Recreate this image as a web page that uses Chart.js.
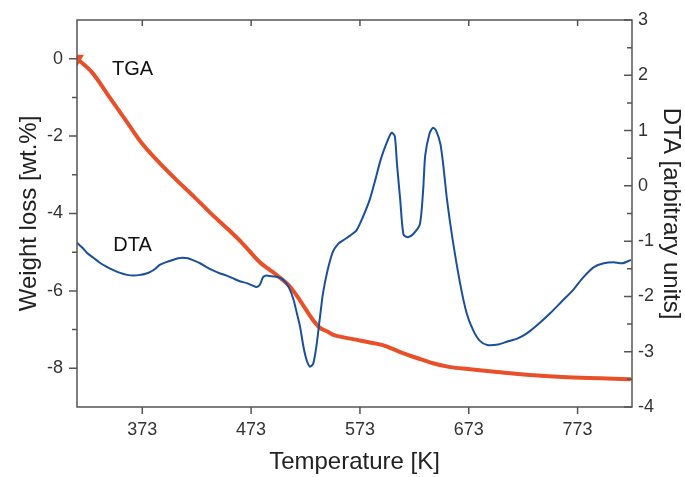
<!DOCTYPE html>
<html>
<head>
<meta charset="utf-8">
<script src="https://cdn.jsdelivr.net/npm/chart.js@4/dist/chart.umd.min.js"></script>
<style>
  body { margin: 0; background: #fff; }
</style>
</head>
<body>
<canvas id="chart" width="685" height="477"></canvas>
<script>
// TGA curve (left axis, wt.%)
const tgaTemp = [313, 327, 343, 358, 373, 389, 405, 420, 435, 450, 465, 481, 497, 509, 518, 530, 536, 543, 550, 558, 573, 580, 594, 610, 626, 640, 656, 672, 702, 733, 764, 794, 822];
const tgaWeight = [0, -0.36, -1.0, -1.6, -2.2, -2.7, -3.15, -3.55, -3.97, -4.36, -4.77, -5.26, -5.6, -5.9, -6.25, -6.76, -6.95, -7.05, -7.15, -7.2, -7.28, -7.32, -7.4, -7.58, -7.74, -7.87, -7.97, -8.02, -8.1, -8.18, -8.23, -8.26, -8.28];

// DTA curve (right axis, arbitrary units)
const dtaTemp = [313, 318, 322, 328, 334, 340, 346, 352, 359, 365, 371, 376, 380, 385, 389, 395, 401, 406, 410, 415, 419, 426, 432, 438, 444, 450, 456, 462, 469, 474, 478, 481, 484, 487, 490, 495, 500, 504, 508, 512, 515, 518, 521, 524, 527, 530, 533, 536, 539, 543, 548, 553, 558, 564, 570, 576, 582, 587, 592, 597, 602, 605, 607, 610, 613, 617, 622, 628, 631, 633, 637, 640, 643, 647, 650, 653, 658, 665, 671, 677, 683, 690, 700, 708, 718, 727, 737, 748, 758, 769, 778, 788, 797, 806, 814, 822];
const dtaValue = [-1.03, -1.12, -1.21, -1.30, -1.39, -1.46, -1.52, -1.57, -1.61, -1.62, -1.61, -1.59, -1.56, -1.50, -1.43, -1.38, -1.34, -1.31, -1.30, -1.31, -1.34, -1.40, -1.47, -1.53, -1.58, -1.62, -1.67, -1.72, -1.76, -1.80, -1.83, -1.79, -1.65, -1.62, -1.63, -1.64, -1.67, -1.73, -1.85, -2.06, -2.30, -2.55, -2.90, -3.15, -3.27, -3.22, -2.90, -2.42, -1.95, -1.55, -1.20, -1.05, -0.98, -0.90, -0.80, -0.55, -0.25, 0.10, 0.47, 0.75, 0.96, 0.90, 0.40, -0.25, -0.88, -0.93, -0.87, -0.70, -0.10, 0.55, 0.95, 1.05, 1.00, 0.75, 0.30, -0.25, -0.95, -1.76, -2.30, -2.61, -2.80, -2.88, -2.87, -2.82, -2.76, -2.66, -2.50, -2.30, -2.10, -1.88, -1.66, -1.47, -1.40, -1.38, -1.40, -1.34];

const tempTicks = [373, 473, 573, 673, 773];
const weightTicks = [0, -1, -2, -3, -4, -5, -6, -7, -8];
const dtaTicks = [3, 2, 1, 0, -1, -2, -3, -4];

const curveLabels = [
    { text: 'TGA', x: 364, y: -0.29, axis: 'y' },
    { text: 'DTA', x: 364, y: -1.08, axis: 'y2' }
];

const tgaColor = '#e8502a';
const dtaColor = '#1b4f9b';
const frameColor = '#555';
const textColor = '#333';
const fontFamily = '"Liberation Sans", Arial, sans-serif';

const toPoints = (xs, ys) => xs.map((x, i) => ({ x: x, y: ys[i] }));

// fixed axis boxes, no label overflow padding
const fixBox = size => s => {
    if (s.isHorizontal()) s.height = size; else s.width = size;
    s.paddingTop = 0; s.paddingBottom = 0; s.paddingLeft = 0; s.paddingRight = 0;
};

// frame, ticks (outward left/bottom, inward right/top) and curve labels
const frameTicks = {
    id: 'frameTicks',
    afterDraw(chart) {
        const ctx = chart.ctx;
        const a = chart.chartArea;
        const sx = chart.scales.x, sy = chart.scales.y, sy2 = chart.scales.y2;
        ctx.save();
        ctx.strokeStyle = frameColor;
        ctx.lineWidth = 1.5;
        ctx.strokeRect(a.left, a.top, a.right - a.left, a.bottom - a.top);
        ctx.beginPath();
        tempTicks.forEach(v => {
            const px = sx.getPixelForValue(v);
            ctx.moveTo(px, a.bottom); ctx.lineTo(px, a.bottom + 7);
            ctx.moveTo(px, a.top); ctx.lineTo(px, a.top + 6);
        });
        weightTicks.forEach(v => {
            const py = sy.getPixelForValue(v);
            const len = v % 2 === 0 ? 8 : 5;
            ctx.moveTo(a.left, py); ctx.lineTo(a.left - len, py);
        });
        for (let v = -4; v <= 3; v += 0.5) {
            const py = sy2.getPixelForValue(v);
            const len = Number.isInteger(v) ? 8 : 5;
            ctx.moveTo(a.right, py); ctx.lineTo(a.right - len, py);
        }
        ctx.stroke();

        ctx.fillStyle = '#111';
        ctx.font = '20px ' + fontFamily;
        ctx.textAlign = 'center';
        ctx.textBaseline = 'middle';
        curveLabels.forEach(l => {
            ctx.fillText(l.text, sx.getPixelForValue(l.x), chart.scales[l.axis].getPixelForValue(l.y));
        });
        ctx.restore();
    }
};

new Chart(document.getElementById('chart'), {
    type: 'line',
    data: {
        datasets: [{
            label: 'DTA',
            data: toPoints(dtaTemp, dtaValue),
            yAxisID: 'y2',
            borderColor: dtaColor,
            borderWidth: 2,
            pointRadius: 0,
            tension: 0.25
        }, {
            label: 'TGA',
            data: toPoints(tgaTemp, tgaWeight),
            yAxisID: 'y',
            borderColor: tgaColor,
            backgroundColor: tgaColor,
            borderWidth: 4,
            pointRadius: ctx => ctx.dataIndex === 0 ? 4 : 0,
            pointStyle: 'triangle',
            rotation: 180,
            cubicInterpolationMode: 'monotone'
        }]
    },
    options: {
        responsive: false,
        animation: false,
        devicePixelRatio: 1,
        layout: { padding: { top: 20, left: 0, right: 0, bottom: 0 } },
        plugins: { legend: { display: false }, tooltip: { enabled: false } },
        scales: {
            x: {
                type: 'linear',
                position: 'bottom',
                min: 313,
                max: 823,
                afterBuildTicks: s => { s.ticks = tempTicks.map(v => ({ value: v })); },
                afterFit: fixBox(70),
                grid: { display: false, drawTicks: false },
                border: { display: false },
                ticks: { padding: 12, color: textColor, font: { family: fontFamily, size: 18 } },
                title: { display: true, text: 'Temperature [K]', color: '#222', padding: 0, font: { family: fontFamily, size: 24 } }
            },
            y: {
                position: 'left',
                min: -9,
                max: 1,
                afterBuildTicks: s => { s.ticks = weightTicks.filter(v => v % 2 === 0).map(v => ({ value: v })); },
                afterFit: fixBox(77),
                grid: { display: false, drawTicks: false },
                border: { display: false },
                ticks: { padding: 14, color: textColor, font: { family: fontFamily, size: 18 } },
                title: { display: true, text: 'Weight loss [wt.%]', color: '#222', padding: { top: 15, bottom: 0 }, font: { family: fontFamily, size: 24 } }
            },
            y2: {
                position: 'right',
                min: -4,
                max: 3,
                afterBuildTicks: s => { s.ticks = dtaTicks.map(v => ({ value: v })); },
                afterFit: fixBox(53),
                grid: { display: false, drawTicks: false },
                border: { display: false },
                ticks: { padding: 6, color: textColor, font: { family: fontFamily, size: 18 } },
                title: { display: true, text: 'DTA [arbitrary units]', color: '#222', padding: { top: 0, bottom: 0 }, font: { family: fontFamily, size: 24 } }
            }
        }
    },
    plugins: [frameTicks]
});
</script>
</body>
</html>
